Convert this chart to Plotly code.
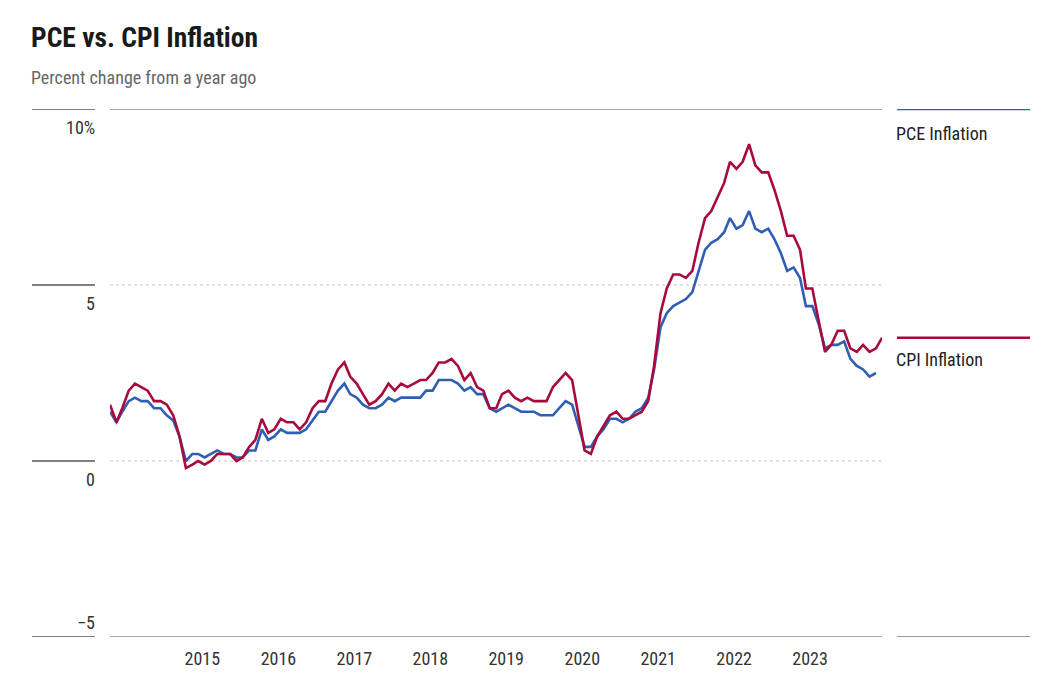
import pandas as pd
import plotly.graph_objects as go

# ---- data ----
start_month = "2014-01-01"
cpi = [1.6, 1.1, 1.5, 2.0, 2.2, 2.1, 2.0, 1.7, 1.7, 1.6, 1.3, 0.7,
       -0.2, -0.1, 0.0, -0.1, 0.0, 0.2, 0.2, 0.2, 0.0, 0.1, 0.4, 0.6,
       1.2, 0.8, 0.9, 1.2, 1.1, 1.1, 0.9, 1.1, 1.5, 1.7, 1.7, 2.2,
       2.6, 2.8, 2.4, 2.2, 1.9, 1.6, 1.7, 1.9, 2.2, 2.0, 2.2, 2.1,
       2.2, 2.3, 2.3, 2.5, 2.8, 2.8, 2.9, 2.7, 2.3, 2.5, 2.1, 2.0,
       1.5, 1.5, 1.9, 2.0, 1.8, 1.7, 1.8, 1.7, 1.7, 1.7, 2.1, 2.3,
       2.5, 2.3, 1.3, 0.3, 0.2, 0.7, 1.0, 1.3, 1.4, 1.2, 1.2, 1.3,
       1.4, 1.7, 2.7, 4.2, 4.9, 5.3, 5.3, 5.2, 5.4, 6.2, 6.9, 7.1,
       7.5, 7.9, 8.5, 8.3, 8.5, 9.0, 8.4, 8.2, 8.2, 7.7, 7.1, 6.4,
       6.4, 6.0, 4.9, 4.9, 4.0, 3.1, 3.3, 3.7, 3.7, 3.2, 3.1, 3.3,
       3.1, 3.2, 3.5]
pce = [1.4, 1.1, 1.4, 1.7, 1.8, 1.7, 1.7, 1.5, 1.5, 1.3, 1.15, 0.7,
       0.0, 0.2, 0.2, 0.1, 0.2, 0.3, 0.2, 0.2, 0.1, 0.1, 0.3, 0.3,
       0.9, 0.6, 0.7, 0.9, 0.8, 0.8, 0.8, 0.9, 1.15, 1.4, 1.4, 1.7,
       2.0, 2.2, 1.9, 1.8, 1.6, 1.5, 1.5, 1.6, 1.8, 1.7, 1.8, 1.8,
       1.8, 1.8, 2.0, 2.0, 2.3, 2.3, 2.3, 2.2, 2.0, 2.1, 1.9, 1.9,
       1.5, 1.4, 1.5, 1.6, 1.5, 1.4, 1.4, 1.4, 1.3, 1.3, 1.3, 1.5,
       1.7, 1.6, 1.0, 0.4, 0.4, 0.7, 0.9, 1.2, 1.2, 1.1, 1.2, 1.4,
       1.5, 1.8, 2.6, 3.8, 4.2, 4.4, 4.5, 4.6, 4.8, 5.4, 6.0, 6.2,
       6.3, 6.5, 6.9, 6.6, 6.7, 7.1, 6.6, 6.5, 6.6, 6.3, 5.9, 5.4,
       5.5, 5.2, 4.4, 4.4, 3.9, 3.2, 3.3, 3.3, 3.4, 2.9, 2.7, 2.6,
       2.4, 2.5]
year_labels = ["2015", "2016", "2017", "2018", "2019", "2020", "2021", "2022", "2023"]
y_ticks = [10, 5, 0, -5]
y_tick_text = ["10%", "5", "0", "\u22125"]
series_names = ["PCE Inflation", "CPI Inflation"]

# ---- styling ----
FONT = "Roboto Condensed, Liberation Sans Narrow, DejaVu Sans Condensed, sans-serif"
BLUE = "#2F5FB3"
RED = "#A80A3C"

def f(size, color, weight="normal"):
    return dict(size=size, color=color, family=FONT, weight=weight)

cpi_dates = pd.date_range(start_month, periods=len(cpi), freq="MS")
pce_dates = pd.date_range(start_month, periods=len(pce), freq="MS")

fig = go.Figure()
fig.add_trace(go.Scatter(x=pce_dates, y=pce, mode="lines", name=series_names[0],
                         line=dict(color=BLUE, width=2.6), hoverinfo="skip"))
fig.add_trace(go.Scatter(x=cpi_dates, y=cpi, mode="lines", name=series_names[1],
                         line=dict(color=RED, width=2.6), hoverinfo="skip"))

tickvals = [pd.Timestamp(f"{y}-03-21") for y in year_labels]

fig.update_layout(
    width=1049, height=681,
    margin=dict(l=110, r=167, t=109, b=40),
    paper_bgcolor="white", plot_bgcolor="white",
    showlegend=False,
    font=f(18, "#333333"),
    xaxis=dict(range=[cpi_dates[0], cpi_dates[-1]], showgrid=False, zeroline=False,
               showline=False, tickvals=tickvals, ticktext=year_labels,
               ticks="", tickfont=f(18, "#333333"),
               ticklabelstandoff=9),
    yaxis=dict(range=[-5, 10], showgrid=False, zeroline=False, showline=False,
               showticklabels=False, ticks=""),
)

# gridlines
for v in y_ticks:
    if v in (10, -5):
        fig.add_shape(type="line", xref="paper", yref="y", x0=0, x1=1, y0=v, y1=v,
                      line=dict(color="#8c8c8c", width=1.6), layer="below")
    else:
        fig.add_shape(type="line", xref="paper", yref="y", x0=0, x1=1, y0=v, y1=v,
                      line=dict(color="#d9d9d9", width=1.5, dash="dot"), layer="below")

# left tick rules and labels
W = 772.0
H = 532.0
lx0 = (32 - 110) / W
lx1 = (95 - 110) / W
for v, t in zip(y_ticks, y_tick_text):
    fig.add_shape(type="line", xref="paper", yref="y", x0=lx0, x1=lx1, y0=v, y1=v,
                  line=dict(color="#555555", width=1.3))
    below = v != y_ticks[-1]
    fig.add_annotation(x=lx1, y=v, xref="paper", yref="y", text=t, showarrow=False,
                       xanchor="right", yanchor="top" if below else "bottom",
                       yshift=-6 if below else 2, xshift=2,
                       font=f(18, "#333333"))

# right-hand labels
rx0 = (897 - 110) / W
rx1 = (1030 - 110) / W
fig.add_shape(type="line", xref="paper", yref="y", x0=rx0, x1=rx1, y0=10, y1=10,
              line=dict(color=BLUE, width=2.4))
fig.add_annotation(x=rx0, y=10, xref="paper", yref="y", text=series_names[0], showarrow=False,
                   xanchor="left", yanchor="top", yshift=-12, xshift=-3,
                   font=f(18, "#222222"))
fig.add_shape(type="line", xref="paper", yref="y", x0=rx0, x1=rx1, y0=cpi[-1], y1=cpi[-1],
              line=dict(color=RED, width=2.4))
fig.add_annotation(x=rx0, y=cpi[-1], xref="paper", yref="y", text=series_names[1], showarrow=False,
                   xanchor="left", yanchor="top", yshift=-9, xshift=-3,
                   font=f(18, "#222222"))
fig.add_shape(type="line", xref="paper", yref="y", x0=rx0, x1=rx1, y0=-5, y1=-5,
              line=dict(color="#777777", width=1.3))

# title & subtitle
fig.add_annotation(x=(32 - 110) / W, y=1 + (109 - 37) / H, xref="paper", yref="paper",
                   text="<b>PCE vs. CPI Inflation</b>", showarrow=False,
                   xanchor="left", yanchor="middle", xshift=-3,
                   font=f(27.5, "#1a1a1a", "bold"))
fig.add_annotation(x=(32 - 110) / W, y=1 + (109 - 77) / H, xref="paper", yref="paper",
                   text="Percent change from a year ago", showarrow=False,
                   xanchor="left", yanchor="middle", xshift=-3,
                   font=f(18, "#666666"))

fig.write_html("out.html", config={"displayModeBar": False},
               post_script="document.body.style.margin='0';")
